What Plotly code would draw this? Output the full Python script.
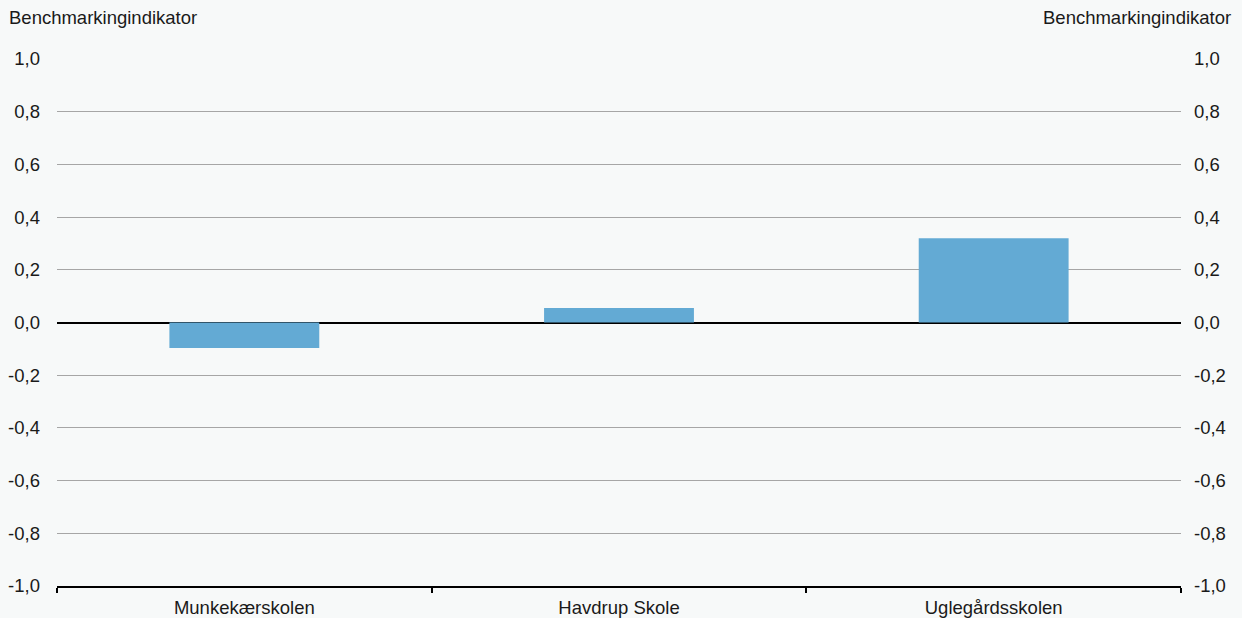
import plotly.graph_objects as go

categories = ["Munkekærskolen", "Havdrup Skole", "Uglegårdsskolen"]
values = [-0.097, 0.055, 0.32]
tick_vals = [-1.0, -0.8, -0.6, -0.4, -0.2, 0.0, 0.2, 0.4, 0.6, 0.8, 1.0]
tick_text = ["-1,0", "-0,8", "-0,6", "-0,4", "-0,2", "0,0", "0,2", "0,4", "0,6", "0,8", "1,0"]
axis_title = "Benchmarkingindikator"

bg = "#f7f9f9"
font = dict(family="Liberation Sans, Arial, sans-serif", size=18.5, color="#1a1a1a")

fig = go.Figure()
fig.add_trace(go.Bar(x=categories, y=values, marker=dict(color="#63aad4", line=dict(width=0)),
                     showlegend=False, hoverinfo="x+y"))
# invisible trace to activate right axis
fig.add_trace(go.Scatter(x=categories, y=values, yaxis="y2", mode="markers",
                         marker=dict(opacity=0), showlegend=False, hoverinfo="skip"))

fig.update_layout(
    width=1242, height=618,
    paper_bgcolor=bg, plot_bgcolor=bg,
    margin=dict(l=57, r=61, t=59, b=32, autoexpand=False),
    font=font,
    separators=",.",
    bargap=0.6,
    xaxis=dict(
        automargin=False,
        showgrid=False, showline=True, linecolor="black", linewidth=1.5,
        ticks="outside", tickson="boundaries", ticklen=5, tickcolor="black", tickwidth=1.5,
        ticklabelstandoff=4,
    ),
    yaxis=dict(
        automargin=False,
        range=[-1.0, 1.0], tickvals=tick_vals, ticktext=tick_text,
        showgrid=True, gridcolor="#a6a6a6", gridwidth=1,
        zeroline=True, zerolinecolor="black", zerolinewidth=2,
        showline=False, ticks="", ticklabelstandoff=16,
    ),
    yaxis2=dict(
        automargin=False,
        range=[-1.0, 1.0], tickvals=tick_vals, ticktext=tick_text,
        overlaying="y", side="right", showgrid=False, zeroline=False,
        showline=False, ticks="", ticklabelstandoff=12,
    ),
    annotations=[
        dict(text=axis_title, xref="paper", yref="paper", x=-50/1124, y=1 + 41/527,
             xanchor="left", yanchor="middle", showarrow=False, font=font),
        dict(text=axis_title, xref="paper", yref="paper", x=1 + 52/1124, y=1 + 41/527,
             xanchor="right", yanchor="middle", showarrow=False, font=font),
    ],
)

fig.write_html("out.html", config={"displayModeBar": False},
               post_script="document.body.style.margin='0';document.body.style.padding='0';")
